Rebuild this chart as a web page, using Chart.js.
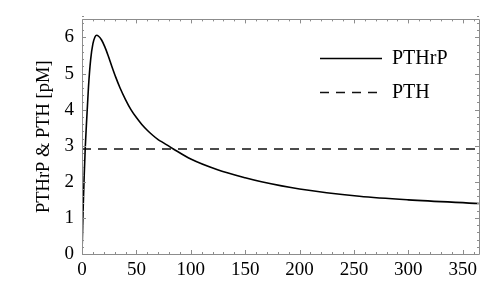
<!DOCTYPE html>
<html>
<head>
<meta charset="utf-8">
<script src="https://cdn.jsdelivr.net/npm/chart.js@4/dist/chart.umd.min.js"></script>
<style>
  html, body { margin: 0; padding: 0; background: #fff; }
  #wrap { width: 488px; height: 285px; position: relative; }
</style>
</head>
<body>
<div id="wrap"><canvas id="c" width="488" height="285"></canvas></div>
<script>
// ---- data ----
const days = [0, 1, 2, 3, 4, 5, 6, 8, 10, 12, 13.5, 15, 18, 21, 24, 27.3, 31, 35, 40, 45, 50, 55, 60, 65, 70, 75, 84, 100, 124, 150, 165, 200, 255, 300, 365];
const pthrp = [0, 1.2, 2.15, 2.95, 3.55, 4.1, 4.65, 5.4, 5.82, 6.02, 6.06, 6.04, 5.93, 5.74, 5.5, 5.21, 4.9, 4.6, 4.28, 4.0, 3.78, 3.59, 3.43, 3.29, 3.17, 3.08, 2.91, 2.63, 2.34, 2.11, 2.0, 1.8, 1.6, 1.5, 1.4];
const pthDays = [0, 365];
const pth = [2.91, 2.91];
const seriesNames = ["PTHrP", "PTH"];
const xTicks = [0, 50, 100, 150, 200, 250, 300, 350];
const yTicks = [0, 1, 2, 3, 4, 5, 6];
const yTitle = "PTHrP & PTH [pM]";

const FONT = "'Liberation Serif', 'DejaVu Serif', serif";

const framePlugin = {
  id: 'frame',
  afterDatasetsDraw(chart) {
    const {ctx, chartArea: a, scales: {x, y}} = chart;
    ctx.save();
    ctx.strokeStyle = '#8c8c8c';
    ctx.lineWidth = 1;
    ctx.beginPath();
    ctx.rect(Math.round(a.left) + 0.5, Math.round(a.top) + 0.5, Math.round(a.right - a.left), Math.round(a.bottom - a.top));
    ctx.stroke();
    ctx.beginPath();
    for (let v = 0; v <= x.max + 1e-9; v += 10) {
      const px = Math.round(x.getPixelForValue(v)) + 0.5;
      const len = (v % 50 === 0) ? 4 : 2;
      ctx.moveTo(px, a.bottom); ctx.lineTo(px, a.bottom - len);
      ctx.moveTo(px, a.top); ctx.lineTo(px, a.top + len);
    }
    for (let i = 0; i <= Math.round(y.max * 5); i++) {
      const v = i / 5;
      const py = Math.round(y.getPixelForValue(v)) + 0.5;
      const len = (i % 5 === 0) ? 4 : 2;
      ctx.moveTo(a.left, py); ctx.lineTo(a.left + len, py);
      ctx.moveTo(a.right, py); ctx.lineTo(a.right - len, py);
    }
    ctx.stroke();
    ctx.restore();
  },
  afterDraw(chart) {
    const {ctx} = chart;
    ctx.save();
    const rows = [58, 92];
    chart.data.datasets.forEach((ds, i) => {
      const yy = rows[i] + 0.5;
      ctx.strokeStyle = ds.borderColor;
      ctx.lineWidth = ds.borderWidth;
      ctx.setLineDash(ds.borderDash || []);
      ctx.beginPath();
      ctx.moveTo(320, yy); ctx.lineTo(382, yy);
      ctx.stroke();
      ctx.setLineDash([]);
      ctx.fillStyle = '#000';
      ctx.font = "20px " + FONT;
      ctx.textBaseline = 'middle';
      ctx.textAlign = 'left';
      ctx.fillText(ds.label, 392, rows[i] + 1);
    });
    ctx.restore();
  }
};

new Chart(document.getElementById('c'), {
  type: 'scatter',
  data: {
    datasets: [
      {
        label: seriesNames[0],
        data: days.map((d, i) => ({x: d, y: pthrp[i]})),
        showLine: true,
        borderColor: '#000',
        borderWidth: 1.6,
        pointRadius: 0,
        cubicInterpolationMode: 'monotone',
        fill: false
      },
      {
        label: seriesNames[1],
        data: pthDays.map((d, i) => ({x: d, y: pth[i]})),
        showLine: true,
        borderColor: '#111',
        borderWidth: 1.5,
        borderDash: [9, 7],
        pointRadius: 0,
        fill: false
      }
    ]
  },
  options: {
    responsive: false,
    animation: false,
    devicePixelRatio: 1,
    layout: { padding: { left: 0, right: 9, top: 8, bottom: 0 } },
    plugins: { legend: { display: false }, tooltip: { enabled: false } },
    scales: {
      x: {
        type: 'linear', min: 0, max: 365,
        afterBuildTicks: s => { s.ticks = xTicks.map(v => ({value: v})); },
        afterFit: s => { s.height = 31; },
        grid: { display: false, drawTicks: false },
        border: { display: false },
        ticks: { color: '#000', font: { family: FONT, size: 19, lineHeight: 1.2 }, padding: 5, maxRotation: 0, autoSkip: false }
      },
      y: {
        type: 'linear', min: 0, max: 6.5,
        afterBuildTicks: s => { s.ticks = yTicks.map(v => ({value: v})); },
        afterFit: s => { s.width = 82; },
        grid: { display: false, drawTicks: false },
        border: { display: false },
        ticks: { color: '#000', font: { family: FONT, size: 19, lineHeight: 1.2 }, padding: 8, autoSkip: false },
        title: { display: true, text: yTitle, color: '#000', font: { family: FONT, size: 18.5, lineHeight: 1.2 }, padding: { top: 33, bottom: 0 } }
      }
    }
  },
  plugins: [framePlugin]
});
</script>
</body>
</html>
